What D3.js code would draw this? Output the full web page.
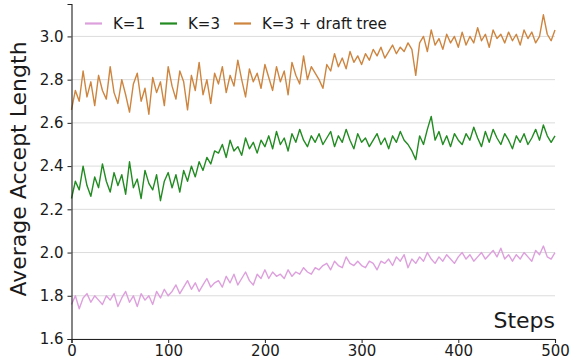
<!DOCTYPE html>
<html>
<head>
<meta charset="utf-8">
<script src="https://cdn.jsdelivr.net/npm/d3@7"></script>
<style>
  body { margin: 0; background: #fff; }
  svg { display: block; font-family: 'DejaVu Sans', sans-serif; }
</style>
</head>
<body>
<div id="chart"></div>
<script>
// values, one every 4 steps (0..500)
const stepSize = 4;
const seriesNames = ['K=1', 'K=3', 'K=3 + draft tree'];
const seriesColors = ['#dda0dd', '#228b22', '#cd853f'];
const yTicks = [1.6, 1.8, 2.0, 2.2, 2.4, 2.6, 2.8, 3.0];
const xTicks = [0, 100, 200, 300, 400, 500];

const k1 = [
  1.76, 1.80, 1.74, 1.79, 1.81, 1.77, 1.80, 1.78, 1.76, 1.80, 1.78, 1.81, 1.75,
  1.79, 1.82, 1.77, 1.80, 1.75, 1.81, 1.78, 1.80, 1.76, 1.82, 1.79, 1.83, 1.80,
  1.82, 1.85, 1.81, 1.84, 1.87, 1.83, 1.86, 1.82, 1.85, 1.88, 1.84, 1.86,
  1.87, 1.84, 1.89, 1.86, 1.90, 1.85, 1.88, 1.91, 1.87, 1.85, 1.90, 1.88, 1.92,
  1.88, 1.91, 1.89, 1.90, 1.88, 1.92, 1.89, 1.91, 1.90, 1.93, 1.91, 1.90, 1.93,
  1.92, 1.94, 1.95, 1.92, 1.96, 1.94, 1.93, 1.98, 1.95, 1.94, 1.96, 1.94,
  1.93, 1.96, 1.95, 1.92, 1.96, 1.95, 1.97, 1.94, 1.98, 1.96, 1.99, 1.93,
  1.97, 1.95, 1.98, 1.96, 2.00, 1.97, 1.95, 1.98, 1.96, 1.99, 1.97, 1.95, 1.98,
  2.00, 1.97, 1.99, 1.96, 1.98, 2.00, 1.97, 1.99, 2.01, 1.98, 2.02, 1.97, 1.99,
  1.96, 1.99, 1.97, 2.00, 1.98, 1.96, 2.01, 1.99, 2.03, 1.98, 1.97, 2.00
];

const k3 = [
  2.25, 2.33, 2.29, 2.40, 2.31, 2.26, 2.35, 2.30, 2.41, 2.33, 2.28, 2.37, 2.31,
  2.36, 2.27, 2.42, 2.30, 2.34, 2.25, 2.38, 2.32, 2.29, 2.36, 2.24, 2.33, 2.37,
  2.30, 2.36, 2.28, 2.38, 2.33, 2.40, 2.35, 2.42, 2.38, 2.44, 2.41, 2.47,
  2.46, 2.50, 2.44, 2.52, 2.47, 2.49, 2.45, 2.53, 2.48, 2.51, 2.46, 2.52, 2.49,
  2.54, 2.48, 2.56, 2.50, 2.53, 2.47, 2.55, 2.51, 2.57, 2.52, 2.49, 2.54, 2.51,
  2.55, 2.50, 2.53, 2.56, 2.49, 2.54, 2.51, 2.57, 2.52, 2.48, 2.55, 2.51,
  2.53, 2.49, 2.52, 2.55, 2.50, 2.53, 2.48, 2.54, 2.51, 2.56, 2.52, 2.50,
  2.47, 2.43, 2.54, 2.50, 2.57, 2.63, 2.52, 2.56, 2.50, 2.54, 2.49, 2.55, 2.52,
  2.50, 2.55, 2.52, 2.58, 2.53, 2.49, 2.56, 2.51, 2.57, 2.53, 2.50, 2.55, 2.52,
  2.48, 2.54, 2.51, 2.55, 2.50, 2.53, 2.57, 2.52, 2.59, 2.54, 2.51, 2.54
];

const k3tree = [
  2.66, 2.75, 2.70, 2.84, 2.72, 2.79, 2.68, 2.82, 2.75, 2.71, 2.86, 2.74, 2.69,
  2.80, 2.73, 2.65, 2.78, 2.83, 2.70, 2.76, 2.64, 2.81, 2.74, 2.79, 2.68, 2.86,
  2.77, 2.71, 2.84, 2.79, 2.66, 2.82, 2.75, 2.88, 2.73, 2.80, 2.69, 2.83,
  2.78, 2.86, 2.74, 2.82, 2.77, 2.89, 2.80, 2.72, 2.85, 2.79, 2.83, 2.76, 2.87,
  2.81, 2.75, 2.86, 2.79, 2.84, 2.73, 2.88, 2.82, 2.78, 2.91, 2.80, 2.86, 2.83,
  2.80, 2.76, 2.87, 2.84, 2.92, 2.86, 2.90, 2.85, 2.93, 2.88, 2.91, 2.87,
  2.92, 2.89, 2.94, 2.91, 2.95, 2.90, 2.93, 2.96, 2.92, 2.95, 2.93, 2.97,
  2.94, 2.82, 2.97, 3.00, 2.93, 3.03, 2.96, 2.99, 2.94, 3.01, 2.97, 3.00, 2.95,
  3.02, 2.96, 3.00, 2.97, 3.04, 2.98, 3.01, 2.95, 3.03, 2.99, 3.01, 2.97, 3.02,
  2.98, 3.01, 2.96, 3.03, 2.99, 3.02, 2.97, 3.00, 3.10, 3.01, 2.98, 3.03
];

const allSeries = [k1, k3, k3tree];

const width = 573;
const height = 364;
const margin = { top: 4, right: 18, bottom: 25, left: 71.5 };

const svg = d3.select('#chart')
  .append('svg')
  .attr('width', width)
  .attr('height', height);

const x = d3.scaleLinear()
  .domain([0, 500])
  .range([margin.left, width - margin.right]);

const y = d3.scaleLinear()
  .domain([1.6, 3.15])
  .range([height - margin.bottom, margin.top]);

// horizontal grid
svg.append('g')
  .selectAll('line')
  .data(yTicks)
  .join('line')
  .attr('x1', x(0))
  .attr('x2', x(500))
  .attr('y1', d => y(d))
  .attr('y2', d => y(d))
  .attr('stroke', '#dcdcdc')
  .attr('stroke-width', 1);

// lines
const line = d3.line()
  .x((d, i) => x(i * stepSize))
  .y(d => y(d));

svg.append('g')
  .selectAll('path')
  .data(allSeries)
  .join('path')
  .attr('d', d => line(d))
  .attr('fill', 'none')
  .attr('stroke', (d, i) => seriesColors[i])
  .attr('stroke-width', 1.4)
  .attr('stroke-linejoin', 'round');

// axes
const yAxis = d3.axisLeft(y).tickValues(yTicks).tickFormat(d3.format('.1f')).tickSizeOuter(0).tickSize(4);
const xAxis = d3.axisBottom(x).tickValues(xTicks).tickSizeOuter(0).tickSize(4);

const gy = svg.append('g')
  .attr('transform', `translate(${margin.left},0)`)
  .call(yAxis);
const gx = svg.append('g')
  .attr('transform', `translate(0,${height - margin.bottom})`)
  .call(xAxis);

[gx, gy].forEach(g => {
  g.selectAll('text')
    .attr('font-family', "'DejaVu Sans', sans-serif")
    .attr('font-size', 15)
    .attr('fill', '#1a1a1a');
  g.select('.domain').attr('stroke', '#222').attr('stroke-width', 1.1);
  g.selectAll('.tick line').attr('stroke', '#222');
});
gy.selectAll('text').attr('x', -8);
gx.selectAll('text').attr('y', 6);

// axis titles
svg.append('text')
  .attr('transform', 'rotate(-90)')
  .attr('x', -169)
  .attr('y', 26)
  .attr('text-anchor', 'middle')
  .attr('font-size', 22)
  .attr('fill', '#1a1a1a')
  .text('Average Accept Length');

svg.append('text')
  .attr('x', x(500))
  .attr('y', 328)
  .attr('text-anchor', 'end')
  .attr('font-size', 22)
  .attr('fill', '#1a1a1a')
  .text('Steps');

// legend
const legendX = [85, 160, 234];
const legend = svg.append('g')
  .selectAll('g')
  .data(seriesNames)
  .join('g')
  .attr('transform', (d, i) => `translate(${legendX[i]},23.5)`);

legend.append('line')
  .attr('x1', 0)
  .attr('x2', 17)
  .attr('stroke', (d, i) => seriesColors[i])
  .attr('stroke-width', 2.2);

legend.append('text')
  .attr('x', 28)
  .attr('dy', '0.35em')
  .attr('font-size', 15)
  .attr('fill', '#1a1a1a')
  .text(d => d);
</script>
</body>
</html>
